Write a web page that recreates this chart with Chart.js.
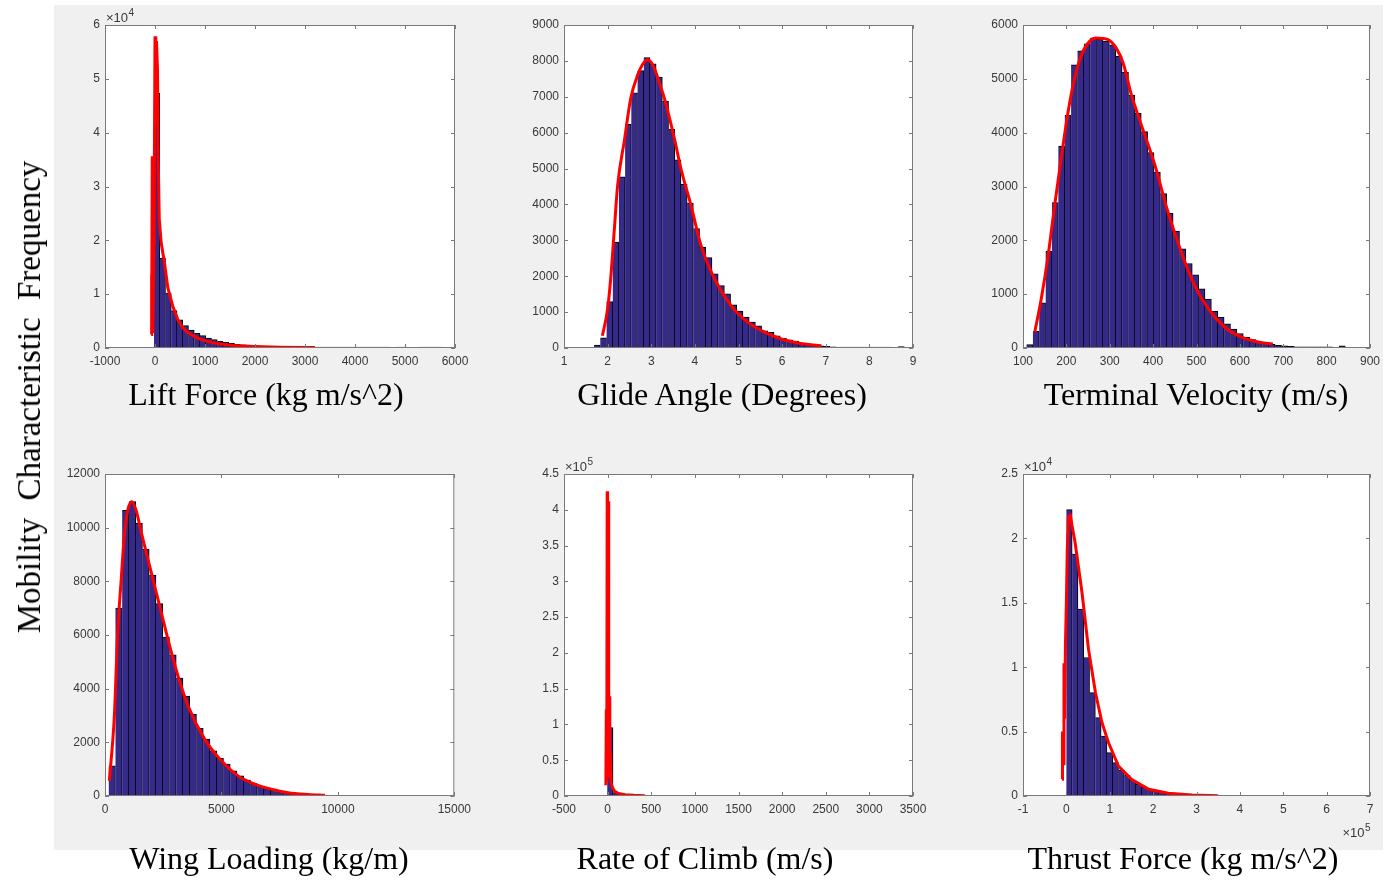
<!DOCTYPE html>
<html>
<head>
<meta charset="utf-8">
<script src="https://cdn.jsdelivr.net/npm/chart.js@4.4.0/dist/chart.umd.min.js"></script>
<style>
  body { margin: 0; width: 1383px; height: 881px; background: #fff; position: relative; overflow: hidden; }
  #bg { position: absolute; left: 54px; top: 5px; width: 1329px; height: 845px; background: #f0f0f0; }
  canvas { position: absolute; }
  .xl { position: absolute; font-family: 'Liberation Serif', 'Times New Roman', serif; font-size: 32px; line-height: 32px;
        white-space: nowrap; transform: translateX(-50%); color: #000; }
  #yl { position: absolute; left: 29px; top: 397px; font-family: 'Liberation Serif', 'Times New Roman', serif;
        font-size: 33px; line-height: 32px; white-space: nowrap; word-spacing: 9px; color: #000;
        transform: translate(-50%, -50%) rotate(-90deg); }
</style>
</head>
<body>
<div id="bg"></div>
<canvas id="c1" width="432" height="393" style="left:45px;top:3px"></canvas>
<canvas id="c2" width="431" height="393" style="left:504px;top:3px"></canvas>
<canvas id="c3" width="429" height="393" style="left:963px;top:3px"></canvas>
<canvas id="c4" width="432" height="392" style="left:45px;top:452px"></canvas>
<canvas id="c5" width="431" height="392" style="left:504px;top:452px"></canvas>
<canvas id="c6" width="429" height="392" style="left:963px;top:452px"></canvas>

<div class="xl" style="left:266px;top:378px">Lift Force (kg m/s^2)</div>
<div class="xl" style="left:722px;top:378px">Glide Angle (Degrees)</div>
<div class="xl" style="left:1196px;top:378px">Terminal Velocity (m/s)</div>
<div class="xl" style="left:269px;top:842px">Wing Loading (kg/m)</div>
<div class="xl" style="left:705px;top:842px">Rate of Climb (m/s)</div>
<div class="xl" style="left:1183px;top:842px">Thrust Force (kg m/s^2)</div>
<div id="yl">Mobility Characteristic Frequency</div>

<script>
// histogram counts (50 equal bins, first edge + width)
const liftBin0 = -20, liftBinW = 115;
const liftCounts = [47300, 16700, 10200, 6950, 5220, 4160, 3350, 2740, 2300, 1860,
  1550, 1250, 1060, 870, 700, 570, 460, 380, 310, 250,
  200, 170, 150, 150, 150, 150, 150, 150, 150, 150,
  150, 150, 150, 150, 150, 150, 150, 150, 150, 150,
  150, 0, 150, 150, 0, 0, 150, 150, 150, 150];
const liftFitX = [-76, -70, -64, -55, -45, -20, 0, 15, 30, 50, 65, 85, 124, 190, 256, 356, 456, 556, 656, 800, 924, 1100, 1300, 1600, 2000, 2500, 3000, 3200];
const liftFitY = [2500, 13600, 2800, 35600, 2800, 20000, 57900, 42000, 57000, 51700, 35000, 24000, 19500, 15800, 11200, 7770, 5300, 3800, 2820, 2100, 1580, 1100, 750, 450, 280, 150, 100, 80];

const glideBin0 = 1.69, glideBinW = 0.1422;
const glideCounts = [80, 280, 1290, 2950, 4770, 6230, 7110, 7730, 8090, 7920,
  7550, 6870, 6100, 5240, 4560, 4040, 3330, 2810, 2520, 2070,
  1740, 1510, 1200, 1030, 860, 720, 620, 480, 440, 340,
  270, 230, 190, 140, 110, 80, 60, 45, 30, 28,
  28, 28, 28, 28, 28, 28, 28, 28, 0, 40];
const glideFitX = [1.88, 2.0, 2.07, 2.15, 2.23, 2.38, 2.53, 2.69, 2.8, 2.92, 3.05, 3.17, 3.3, 3.42, 3.53, 3.68, 3.91, 4.14, 4.45, 4.83, 5.21, 5.6, 5.98, 6.36, 6.9];
const glideFitY = [340, 1090, 1930, 3240, 4540, 5750, 6960, 7610, 7900, 8030, 7850, 7450, 6960, 6400, 5840, 5000, 3980, 2860, 1930, 1180, 720, 440, 250, 140, 60];

const termBin0 = 108, termBinW = 14.7;
const termCounts = [62, 310, 840, 1800, 2700, 3750, 4320, 5260, 5520, 5650,
  5760, 5740, 5700, 5630, 5420, 5120, 4700, 4360, 4020, 3630,
  3270, 2870, 2500, 2170, 1840, 1570, 1360, 1100, 910, 680,
  570, 450, 350, 270, 200, 155, 115, 90, 70, 50,
  40, 30, 20, 20, 20, 20, 20, 20, 0, 40];
const termFitX = [127, 142, 158, 173, 189, 204, 219, 235, 254, 269, 296, 315, 331, 350, 373, 404, 434, 465, 496, 527, 565, 604, 642, 676];
const termFitY = [290, 910, 1720, 2650, 3580, 4390, 5010, 5450, 5700, 5760, 5730, 5570, 5290, 4700, 4140, 3400, 2530, 1780, 1160, 730, 390, 200, 110, 75];

const wingBin0 = 158, wingBinW = 290;
const wingCounts = [1120, 7000, 10650, 10970, 10160, 9200, 8220, 7170, 5920, 5260,
  4390, 3720, 3050, 2520, 2120, 1680, 1400, 1190, 940, 750,
  590, 460, 350, 275, 210, 160, 120, 90, 70, 50, 35, 20];
const wingFitX = [187, 402, 545, 689, 832, 976, 1148, 1334, 1550, 1837, 2124, 2411, 2698, 3129, 3560, 4278, 4996, 5713, 6431, 7149, 7866, 8727, 9445];
const wingFitY = [560, 2990, 6100, 7980, 9720, 10650, 10970, 10650, 9850, 8850, 7850, 6860, 5860, 4490, 3370, 2120, 1310, 750, 440, 250, 125, 60, 30];

const climbBin0 = -4, climbBinW = 66;
const climbCounts = [95700, 4700, 1400, 700, 350, 200, 100];
const climbFitX = [-20, -15, -10, -5, 0, 5, 10, 15, 20, 25, 30, 40, 55, 80, 110, 140, 200, 300, 427];
const climbFitY = [15000, 120900, 20000, 426000, 60000, 300000, 412000, 40000, 139500, 25000, 60000, 18400, 12000, 6700, 4500, 3000, 1800, 900, 300];

const thrustBin0 = 0, thrustBinW = 13360;
const thrustCounts = [22230, 18780, 14510, 10750, 8030, 6090, 4660, 3370, 2590, 2020,
  1610, 1220, 910, 700, 520, 390, 290, 210, 150, 110, 80, 60, 45, 30, 20, 15];
const thrustFitX = [-10000, -9000, -7000, -5500, -4000, -2000, 0, 2000, 5000, 9000, 13000, 20000, 36000, 51000, 67000, 82000, 97000, 120000, 150000, 190000, 235000, 290000, 350000];
const thrustFitY = [1300, 5000, 2500, 10300, 6000, 12000, 15000, 19000, 21700, 21800, 21000, 19700, 15800, 11400, 8030, 5700, 4150, 2330, 1300, 520, 210, 80, 20];

const tickColor = '#383838';
const boxColor = '#7a7a7a';
const barFill = '#352a87';

function binPoints(start, width, counts) {
  return counts.map((c, i) => ({ x: start + width * (i + 0.5), y: c }));
}
function pairs(xs, ys) {
  return xs.map((x, i) => ({ x: x, y: ys[i] }));
}

function drawExp(ctx, text, exp, x, y, align) {
  ctx.fillStyle = tickColor;
  ctx.textBaseline = 'alphabetic';
  ctx.textAlign = 'left';
  ctx.font = '13px "Liberation Sans", Arial, sans-serif';
  const w1 = ctx.measureText(text).width;
  ctx.font = '10px "Liberation Sans", Arial, sans-serif';
  const w2 = ctx.measureText(exp).width;
  const x0 = align === 'right' ? x - w1 - w2 : x;
  ctx.font = '13px "Liberation Sans", Arial, sans-serif';
  ctx.fillText(text, x0, y);
  ctx.font = '10px "Liberation Sans", Arial, sans-serif';
  ctx.fillText(exp, x0 + w1 + 0.5, y - 6);
}

const boxPlugin = {
  id: 'box',
  beforeDraw(chart) {
    const a = chart.chartArea, ctx = chart.ctx;
    ctx.save();
    ctx.fillStyle = '#fff';
    ctx.fillRect(a.left, a.top, a.width, a.height);
    ctx.restore();
  },
  afterDatasetsDraw(chart, args, opts) {
    const a = chart.chartArea, ctx = chart.ctx;
    const xs = chart.scales.x, ys = chart.scales.y;
    ctx.save();
    ctx.strokeStyle = boxColor;
    ctx.lineWidth = 1;
    ctx.beginPath();
    xs.ticks.forEach(t => {
      const p = Math.round(xs.getPixelForValue(t.value)) + 0.5;
      ctx.moveTo(p, a.bottom); ctx.lineTo(p, a.bottom - 4);
      ctx.moveTo(p, a.top); ctx.lineTo(p, a.top + 4);
    });
    ys.ticks.forEach(t => {
      const p = Math.round(ys.getPixelForValue(t.value)) + 0.5;
      ctx.moveTo(a.left, p); ctx.lineTo(a.left + 4, p);
      ctx.moveTo(a.right, p); ctx.lineTo(a.right - 4, p);
    });
    ctx.stroke();
    ctx.strokeRect(a.left + 0.5, a.top + 0.5, a.width - 1, a.height - 1);
    if (opts.yExp) drawExp(ctx, '\u00d710', opts.yExp, a.left + 1, a.top - 3, 'left');
    if (opts.xExp) drawExp(ctx, '\u00d710', opts.xExp, a.right, a.bottom + 41, 'right');
    ctx.restore();
  }
};

function makeHist(id, bars, fit, xr, yr, extra) {
  const font = { family: '"Liberation Sans", Arial, sans-serif', size: 12 };
  new Chart(document.getElementById(id).getContext('2d'), {
    type: 'bar',
    data: {
      datasets: [
        { type: 'line', data: fit, borderColor: '#ff0000', borderWidth: 3, pointRadius: 0,
          tension: 0, cubicInterpolationMode: extra.smooth ? 'monotone' : 'default', order: 0 },
        { type: 'bar', data: bars, backgroundColor: barFill, borderColor: '#000',
          borderWidth: { top: 1, right: 1, left: 0, bottom: 0 }, borderSkipped: 'start',
          barPercentage: 1, categoryPercentage: 1, grouped: false, order: 1 }
      ]
    },
    options: {
      responsive: false,
      animation: false,
      events: [],
      layout: { padding: { top: 22, right: 22, left: 0, bottom: 0 } },
      plugins: {
        legend: { display: false },
        tooltip: { enabled: false },
        box: { yExp: extra.yExp, xExp: extra.xExp }
      },
      scales: {
        x: {
          type: 'linear', min: xr[0], max: xr[1], offset: false,
          grid: { display: false, drawTicks: false, tickLength: 0 }, border: { display: false },
          ticks: { stepSize: xr[2], color: tickColor, font: font, padding: 6, maxRotation: 0, autoSkip: false,
                   callback: v => String(extra.xDiv ? v / extra.xDiv : v) },
          afterFit: s => { s.height = 48; }
        },
        y: {
          type: 'linear', min: yr[0], max: yr[1],
          grid: { display: false, drawTicks: false, tickLength: 0 }, border: { display: false },
          ticks: { stepSize: yr[2], color: tickColor, font: font, padding: 5, autoSkip: false,
                   callback: v => String(extra.yDiv ? v / extra.yDiv : v) },
          afterFit: s => { s.width = 60; }
        }
      }
    },
    plugins: [boxPlugin]
  });
}

makeHist('c1', binPoints(liftBin0, liftBinW, liftCounts), pairs(liftFitX, liftFitY),
  [-1000, 6000, 1000], [0, 60000, 10000], { yDiv: 1e4, yExp: '4' });
makeHist('c2', binPoints(glideBin0, glideBinW, glideCounts), pairs(glideFitX, glideFitY),
  [1, 9, 1], [0, 9000, 1000], { smooth: true });
makeHist('c3', binPoints(termBin0, termBinW, termCounts), pairs(termFitX, termFitY),
  [100, 900, 100], [0, 6000, 1000], { smooth: true });
makeHist('c4', binPoints(wingBin0, wingBinW, wingCounts), pairs(wingFitX, wingFitY),
  [0, 15000, 5000], [0, 12000, 2000], { smooth: true });
makeHist('c5', binPoints(climbBin0, climbBinW, climbCounts), pairs(climbFitX, climbFitY),
  [-500, 3500, 500], [0, 450000, 50000], { yDiv: 1e5, yExp: '5' });
makeHist('c6', binPoints(thrustBin0, thrustBinW, thrustCounts), pairs(thrustFitX, thrustFitY),
  [-100000, 700000, 100000], [0, 25000, 5000], { xDiv: 1e5, yDiv: 1e4, yExp: '4', xExp: '5' });
</script>
</body>
</html>
